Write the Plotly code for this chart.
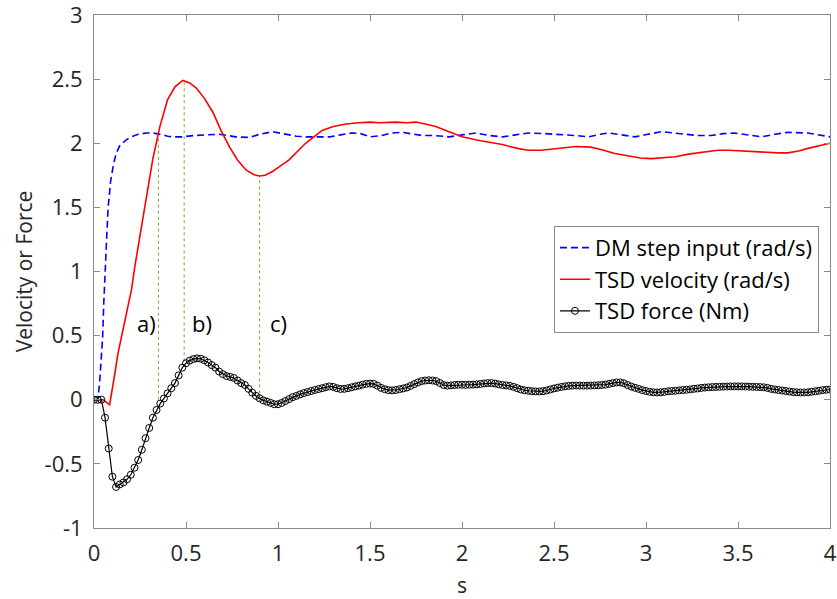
import numpy as np
import plotly.graph_objects as go

# ---- DM step input (rad/s) ----
dm_t = [0, 0.02, 0.03, 0.04, 0.047, 0.053, 0.06, 0.07, 0.077, 0.09, 0.104, 0.12, 0.14, 0.17, 0.195,
        0.24, 0.286, 0.32, 0.36, 0.40, 0.43, 0.48, 0.54, 0.60, 0.68, 0.73, 0.77, 0.845, 0.90, 0.97,
        1.04, 1.10, 1.15, 1.28, 1.34, 1.40, 1.45, 1.50, 1.56, 1.62, 1.675, 1.73, 1.785, 1.85, 1.93,
        2.0, 2.075, 2.15, 2.22, 2.29, 2.36, 2.45, 2.54, 2.62, 2.69, 2.75, 2.80, 2.87, 2.94, 3.01,
        3.085, 3.15, 3.21, 3.28, 3.355, 3.42, 3.48, 3.56, 3.63, 3.70, 3.77, 3.88, 3.95, 4.0]
dm_v = [0, 0.0, 0.12, 0.3, 0.49, 0.75, 1.02, 1.3, 1.5, 1.7, 1.82, 1.92, 1.98, 2.02, 2.045,
        2.07, 2.08, 2.08, 2.07, 2.055, 2.05, 2.05, 2.06, 2.065, 2.07, 2.06, 2.05, 2.045, 2.07, 2.09,
        2.07, 2.055, 2.05, 2.05, 2.065, 2.08, 2.075, 2.05, 2.06, 2.08, 2.085, 2.07, 2.06, 2.06, 2.05,
        2.065, 2.08, 2.06, 2.05, 2.065, 2.08, 2.075, 2.07, 2.06, 2.05, 2.07, 2.08, 2.065, 2.05, 2.07,
        2.09, 2.08, 2.07, 2.06, 2.06, 2.075, 2.08, 2.065, 2.05, 2.07, 2.085, 2.08, 2.06, 2.05]

# ---- TSD velocity (rad/s) ----
vel_t = [0, 0.05, 0.085, 0.1, 0.115, 0.13, 0.15, 0.177, 0.204, 0.222, 0.258, 0.286, 0.32, 0.358, 0.40,
         0.44, 0.483, 0.52, 0.556, 0.60, 0.647, 0.69, 0.737, 0.78, 0.827, 0.87, 0.90, 0.93, 0.97,
         1.01, 1.06, 1.15, 1.24, 1.30, 1.37, 1.44, 1.50, 1.55, 1.60, 1.64, 1.70, 1.75, 1.80, 1.857,
         1.93, 2.0, 2.1, 2.22, 2.30, 2.36, 2.43, 2.51, 2.62, 2.70, 2.76, 2.83, 2.905, 2.97, 3.03,
         3.10, 3.16, 3.23, 3.30, 3.39, 3.45, 3.52, 3.60, 3.66, 3.72, 3.77, 3.83, 3.88, 3.94, 4.0]
vel_v = [0, 0, -0.04, 0.08, 0.22, 0.36, 0.5, 0.66, 0.86, 1.04, 1.35, 1.58, 1.88, 2.13, 2.34,
         2.44, 2.49, 2.47, 2.43, 2.35, 2.24, 2.1, 1.97, 1.87, 1.79, 1.755, 1.745, 1.75, 1.78,
         1.82, 1.87, 2.0, 2.1, 2.13, 2.15, 2.16, 2.165, 2.16, 2.165, 2.165, 2.16, 2.165, 2.15, 2.13,
         2.09, 2.05, 2.02, 1.99, 1.96, 1.945, 1.945, 1.96, 1.975, 1.97, 1.95, 1.92, 1.90, 1.885, 1.88,
         1.885, 1.895, 1.915, 1.93, 1.945, 1.945, 1.94, 1.93, 1.925, 1.925, 1.925, 1.94, 1.96, 1.98, 2.0]

# ---- TSD force (Nm), sampled every 0.02 s ----
force_v = [0, 0, 0, -0.14, -0.38, -0.60, -0.68, -0.66, -0.645, -0.62,
           -0.585, -0.53, -0.47, -0.39, -0.30, -0.22, -0.14, -0.08, -0.03, 0.01,
           0.05, 0.09, 0.13, 0.19, 0.25, 0.285, 0.305, 0.317, 0.323, 0.32,
           0.308, 0.29, 0.27, 0.25, 0.22, 0.20, 0.185, 0.178, 0.17, 0.15,
           0.13, 0.115, 0.085, 0.055, 0.03, 0.012, -0.005, -0.015, -0.025, -0.035,
           -0.035, -0.025, -0.01, 0.005, 0.02, 0.03, 0.042, 0.052, 0.06, 0.068,
           0.076, 0.083, 0.09, 0.098, 0.104, 0.10, 0.09, 0.084, 0.085, 0.09,
           0.097, 0.104, 0.11, 0.118, 0.124, 0.126, 0.124, 0.11, 0.093, 0.082,
           0.075, 0.073, 0.076, 0.082, 0.088, 0.095, 0.108, 0.122, 0.135, 0.145,
           0.15, 0.152, 0.15, 0.145, 0.13, 0.115, 0.11, 0.112, 0.115, 0.117,
           0.117, 0.116, 0.117, 0.118, 0.12, 0.123, 0.127, 0.13, 0.13, 0.126,
           0.12, 0.115, 0.112, 0.108, 0.1, 0.09, 0.08, 0.074, 0.07, 0.067,
           0.065, 0.065, 0.067, 0.072, 0.08, 0.088, 0.094, 0.1, 0.105, 0.108,
           0.11, 0.111, 0.11, 0.11, 0.11, 0.111, 0.112, 0.113, 0.115, 0.118,
           0.124, 0.13, 0.135, 0.135, 0.128, 0.115, 0.103, 0.093, 0.085, 0.075,
           0.068, 0.062, 0.058, 0.057, 0.058, 0.062, 0.066, 0.068, 0.07, 0.073,
           0.076, 0.078, 0.081, 0.085, 0.088, 0.092, 0.095, 0.097, 0.099, 0.1,
           0.101, 0.102, 0.103, 0.104, 0.104, 0.104, 0.104, 0.103, 0.102, 0.101,
           0.1, 0.099, 0.097, 0.092, 0.085, 0.08, 0.076, 0.072, 0.068, 0.064,
           0.06, 0.058, 0.057, 0.057, 0.058, 0.062, 0.066, 0.07, 0.075, 0.078,
           0.08]
force_t = np.round(np.arange(len(force_v)) * 0.02, 2)

# ---- phase markers ----
mark_t = [0.35, 0.49, 0.90]
mark_top = [2.08, 2.48, 1.745]
mark_bottom = [0.0, 0.30, 0.05]
mark_labels = ["a)", "b)", "c)"]
label_t = [0.287, 0.588, 1.0]
label_v = [0.60, 0.60, 0.60]

x_ticks = [0, 0.5, 1, 1.5, 2, 2.5, 3, 3.5, 4]
y_ticks = [-1, -0.5, 0, 0.5, 1, 1.5, 2, 2.5, 3]

FONT = "Open Sans, Liberation Sans, Arial, sans-serif"

fig = go.Figure()

for t, top, bot in zip(mark_t, mark_top, mark_bottom):
    fig.add_trace(go.Scatter(x=[t, t], y=[bot, top], mode="lines",
                             line=dict(color="#77AC30", width=1, dash="3px,3px"),
                             showlegend=False, hoverinfo="skip"))

fig.add_trace(go.Scatter(x=dm_t, y=dm_v, mode="lines", name="DM step input (rad/s)",
                         line=dict(color="#0000ff", width=1.6, dash="7px,4px")))
fig.add_trace(go.Scatter(x=vel_t, y=vel_v, mode="lines", name="TSD velocity (rad/s)",
                         line=dict(color="#ff0000", width=1.6)))
fig.add_trace(go.Scatter(x=force_t, y=force_v, mode="lines+markers", name="TSD force (Nm)",
                         line=dict(color="#000000", width=1.2),
                         marker=dict(symbol="circle-open", size=7, color="#000000",
                                     line=dict(width=1, color="#000000"))))

for txt, t, v in zip(mark_labels, label_t, label_v):
    fig.add_annotation(x=t, y=v, text=txt, showarrow=False,
                       font=dict(family=FONT, size=22, color="#000000"))

axis_common = dict(showgrid=False, zeroline=False, showline=True, linecolor="#8a8a8a",
                   linewidth=1, mirror="allticks", ticks="inside", ticklen=6,
                   tickcolor="#8a8a8a", tickwidth=1, automargin=False,
                   ticklabeloverflow="allow",
                   tickfont=dict(family=FONT, size=22, color="#262626"))

fig.update_xaxes(range=[0, 4], tickvals=x_ticks, ticktext=[f"{v:g}" for v in x_ticks],
                 title=dict(text="s", font=dict(family=FONT, size=21, color="#262626"), standoff=12),
                 ticklabelstandoff=6, **axis_common)
fig.update_yaxes(range=[-1, 3], tickvals=y_ticks, ticktext=[f"{v:g}" for v in y_ticks],
                 title=dict(text="Velocity or Force", font=dict(family=FONT, size=21, color="#262626"), standoff=6),
                 ticklabelstandoff=6, **axis_common)

fig.update_layout(
    width=837, height=599,
    margin=dict(l=94, r=7, t=15, b=71),
    plot_bgcolor="white", paper_bgcolor="white",
    legend=dict(x=0.985, y=0.589, xanchor="right", yanchor="top",
                bgcolor="white", bordercolor="#8a8a8a", borderwidth=1,
                font=dict(family=FONT, size=22, color="#000000"),
                tracegroupgap=0, itemwidth=30),
)

fig.write_html("out.html", config={"displayModeBar": False},
               post_script="document.body.style.margin='0';")
